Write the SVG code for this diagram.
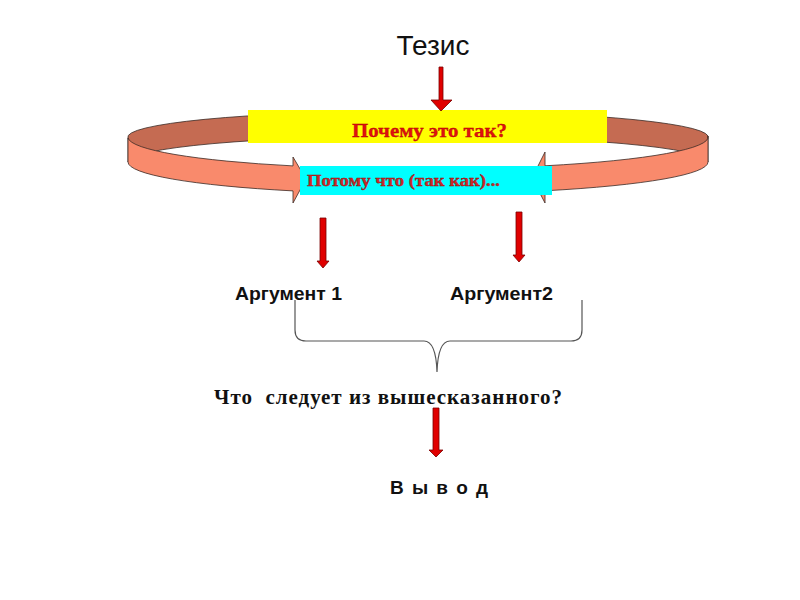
<svg xmlns="http://www.w3.org/2000/svg" width="800" height="600" viewBox="0 0 800 600">
<style>
.band-back{fill:#C56B52;stroke:#3a2a25;stroke-width:0.8}
.band-front{fill:#F98A6C;stroke:#3a2a25;stroke-width:0.8}
.red-arrow{fill:#E00000;stroke:#7a0000;stroke-width:0.8}
.sans{font-family:"Liberation Sans",Arial,sans-serif}
.serif{font-family:"Liberation Serif","Times New Roman",serif}
.brace{fill:none;stroke:#555;stroke-width:1.2}
</style>
<rect width="800" height="600" fill="#fff"/>
<g id="ring">
<path class="band-back" d="M128,138 A290,26 0 0,1 708,136 L708,162 A290,26 0 0,0 128,162 Z"/>
<path class="band-front" d="M708,136 A290,32 0 0,1 545,165.8 L545,152 L532,178 L545,203 L545,190.8 A290,32 0 0,0 708,162 Z"/>
<path class="band-front" d="M128,138 A290,32 0 0,0 293,165.9 L293,157 L306,179 L293,203 L293,190.9 A290,32 0 0,1 128,162 Z"/>
</g>
<g id="thesis">
<text class="sans" x="433" y="55" font-size="28" text-anchor="middle" fill="#111">Тезис</text>
</g>
<g id="why">
<rect x="248" y="110" width="359" height="33" fill="#FFFF00"/>
<text class="serif" x="352" y="137" font-size="18" font-weight="bold" fill="#E01010" stroke="#B00000" stroke-width="0.3" textLength="155" lengthAdjust="spacingAndGlyphs">Почему это так?</text>
</g>
<g id="because">
<rect x="300" y="166" width="252" height="29" fill="#00FFFF"/>
<text class="serif" x="307" y="186" font-size="17" font-weight="bold" fill="#D02828" stroke="#901010" stroke-width="0.4" textLength="193" lengthAdjust="spacingAndGlyphs">Потому что (так как)...</text>
</g>
<g id="arg1">
<text class="sans" x="235" y="300" font-size="18" font-weight="bold" fill="#111" textLength="107" lengthAdjust="spacingAndGlyphs">Аргумент 1</text>
</g>
<g id="arg2">
<text class="sans" x="450" y="300" font-size="18" font-weight="bold" fill="#111" textLength="103" lengthAdjust="spacingAndGlyphs">Аргумент2</text>
</g>
<g id="question">
<text class="serif" x="214" y="404" font-size="21" font-weight="bold" fill="#111" textLength="348" lengthAdjust="spacing" xml:space="preserve">Что  следует из вышесказанного?</text>
</g>
<g id="conclusion">
<text class="sans" x="390" y="494" font-size="19" font-weight="bold" fill="#111" textLength="98" lengthAdjust="spacing">В ы в о д</text>
</g>
<g id="connectors">
<path class="red-arrow" d="M439,67 L443,67 L443,100 L452,100 L441,111 L431,100 L439,100 Z"/>
<path class="red-arrow" d="M320,218 L326,218 L326,261 L329,261 L323,268 L317,261 L320,261 Z"/>
<path class="red-arrow" d="M516,212 L522,212 L522,255 L525,255 L519,262 L513,255 L516,255 Z"/>
<path class="red-arrow" d="M433,408 L439,408 L439,450 L443,450 L436,457 L429,450 L433,450 Z"/>
<path class="brace" d="M295,300 L295,330 Q295,341 306,341 L424,341 Q436,341 437,372 Q438,341 450,341 L571,341 Q582,341 582,330 L582,300"/>
</g>
</svg>
